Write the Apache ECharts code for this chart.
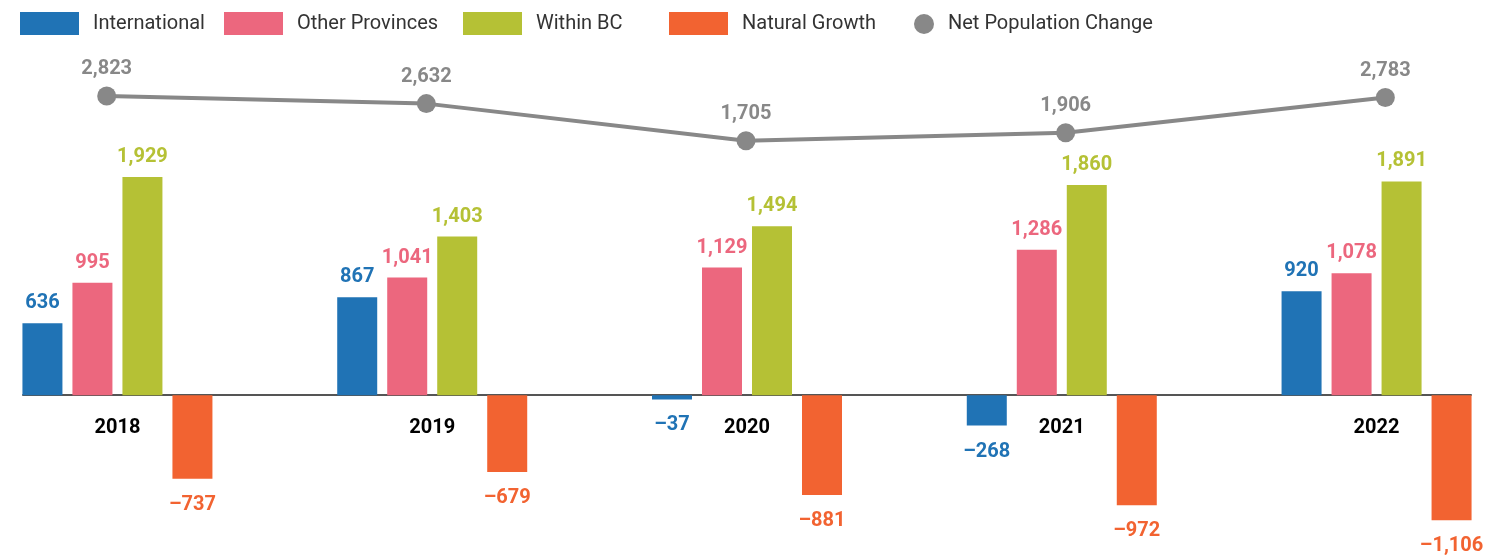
<!DOCTYPE html>
<html lang="en">
<head>
    <meta charset="UTF-8">
    <title>Population change</title>
    <script src="https://cdn.jsdelivr.net/npm/echarts@6/dist/echarts.min.js"></script>
    <style type="text/css">
        html, body{
            margin: 0;
            padding: 0;
            background: #fff;
        }
        #main{
            width: 1487px;
            height: 555px;
        }
    </style>
</head>
<body>
    <div id="main"></div>
    <script>
        var years = ['2018', '2019', '2020', '2021', '2022'];
        var international = [636, 867, -37, -268, 920];
        var otherProvinces = [995, 1041, 1129, 1286, 1078];
        var withinBC = [1929, 1403, 1494, 1860, 1891];
        var naturalGrowth = [-737, -679, -881, -972, -1106];
        var netChange = [2823, 2632, 1705, 1906, 2783];

        var FONT = 'Roboto';

        // 1,234 / –737
        function fmt(v) {
            var s = Math.abs(v).toString().replace(/\B(?=(\d{3})+(?!\d))/g, ',');
            return v < 0 ? '\u2013' + s : s;
        }

        function barSeries(name, arr, color) {
            return {
                name: name,
                type: 'bar',
                barWidth: 40,
                barGap: '25%',
                itemStyle: { color: color },
                label: {
                    show: true,
                    color: color,
                    fontFamily: FONT,
                    fontSize: 20,
                    fontWeight: 'bold',
                    formatter: function (p) { return fmt(p.value[1]); }
                },
                data: arr.map(function (v, i) {
                    return {
                        value: [i, v],
                        label: { position: v < 0 ? 'bottom' : 'top', distance: v < 0 ? 16 : 10 }
                    };
                })
            };
        }

        function legendItem(name, left, icon, w, h, top) {
            return {
                data: [name],
                left: left,
                top: top,
                padding: 0,
                icon: icon,
                itemWidth: w,
                itemHeight: h,
                selectedMode: false,
                textStyle: {
                    fontFamily: FONT,
                    fontSize: 20,
                    color: '#333',
                    padding: [0, 0, 0, 9]
                }
            };
        }

        var myChart = echarts.init(document.getElementById('main'));
        var option = {
            animation: false,
            backgroundColor: '#fff',
            legend: [
                legendItem('International', 20, 'rect', 59, 23, 12),
                legendItem('Other Provinces', 224, 'rect', 59, 23, 12),
                legendItem('Within BC', 463, 'rect', 59, 23, 12),
                legendItem('Natural Growth', 669, 'rect', 59, 23, 12),
                legendItem('Net Population Change', 914, 'circle', 20, 20, 14)
            ],
            grid: [
                // bars + line
                { left: 23, right: 16, top: 56, height: 475, outerBoundsMode: 'none' },
                // year axis sitting on the zero line
                { left: 23, right: 16, top: 394, height: 1, outerBoundsMode: 'none' }
            ],
            xAxis: [
                {
                    type: 'value',
                    gridIndex: 0,
                    min: -0.3,
                    max: 4.3,
                    splitLine: { show: false },
                    axisTick: { show: false },
                    axisLine: { show: false },
                    axisLabel: { show: false }
                },
                {
                    type: 'value',
                    gridIndex: 0,
                    show: false,
                    min: -0.2618,
                    max: 4.268,
                    splitLine: { show: false }
                },
                {
                    type: 'value',
                    gridIndex: 1,
                    min: -0.3,
                    max: 4.3,
                    splitLine: { show: false },
                    axisTick: { show: false },
                    axisLine: {
                        show: true,
                        onZero: false,
                        lineStyle: { color: '#555', width: 2 }
                    },
                    axisLabel: {
                        customValues: [0, 1, 2, 3, 4],
                        formatter: function (v) { return years[Math.round(v)]; },
                        margin: 23,
                        color: '#000',
                        fontFamily: FONT,
                        fontSize: 20,
                        fontWeight: 'bold'
                    }
                }
            ],
            yAxis: [
                { type: 'value', gridIndex: 0, show: false, min: -1200, max: 3000, splitLine: { show: false } },
                { type: 'value', gridIndex: 0, show: false, min: -8050, max: 3822, splitLine: { show: false } },
                { type: 'value', gridIndex: 1, show: false, min: 0, max: 1, splitLine: { show: false } }
            ],
            series: [
                barSeries('International', international, '#2073b5'),
                barSeries('Other Provinces', otherProvinces, '#ec677e'),
                barSeries('Within BC', withinBC, '#b5c135'),
                barSeries('Natural Growth', naturalGrowth, '#f26331'),
                {
                    name: 'Net Population Change',
                    type: 'line',
                    xAxisIndex: 1,
                    yAxisIndex: 1,
                    symbol: 'circle',
                    symbolSize: 19,
                    itemStyle: { color: '#888' },
                    lineStyle: { color: '#888', width: 4 },
                    label: {
                        show: true,
                        position: 'top',
                        distance: 7,
                        color: '#888',
                        fontFamily: FONT,
                        fontSize: 20,
                        fontWeight: 'bold',
                        formatter: function (p) { return fmt(p.value[1]); }
                    },
                    data: netChange.map(function (v, i) { return [i, v]; }),
                    z: 5
                }
            ]
        };
        myChart.setOption(option);
    </script>
</body>
</html>
